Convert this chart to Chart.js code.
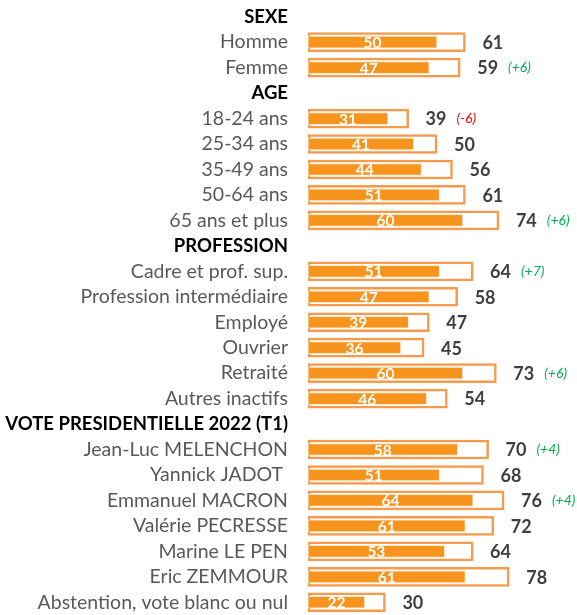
<!DOCTYPE html>
<html>
<head>
<meta charset="utf-8">
<script src="https://cdn.jsdelivr.net/npm/chart.js@4/dist/chart.umd.min.js"></script>
<style>
  body { margin: 0; background: #fff; }
  #wrap { width: 577px; height: 615px; }
</style>
</head>
<body>
<div id="wrap"><canvas id="barChart" width="577" height="615"></canvas></div>
<script>
const categories = [
    'SEXE', 'Homme', 'Femme',
    'AGE', '18-24 ans', '25-34 ans', '35-49 ans', '50-64 ans', '65 ans et plus',
    'PROFESSION', 'Cadre et prof. sup.', 'Profession intermédiaire', 'Employé', 'Ouvrier', 'Retraité', 'Autres inactifs',
    'VOTE PRESIDENTIELLE 2022 (T1)', 'Jean-Luc MELENCHON', 'Yannick JADOT ', 'Emmanuel MACRON', 'Valérie PECRESSE',
    'Marine LE PEN', 'Eric ZEMMOUR', 'Abstention, vote blanc ou nul'
];
const headerRows = ['SEXE', 'AGE', 'PROFESSION', 'VOTE PRESIDENTIELLE 2022 (T1)'];

const innerValues = [
    null, 50, 47,
    null, 31, 41, 44, 51, 60,
    null, 51, 47, 39, 36, 60, 46,
    null, 58, 51, 64, 61, 53, 61, 22
];
const totalValues = [
    null, 61, 59,
    null, 39, 50, 56, 61, 74,
    null, 64, 58, 47, 45, 73, 54,
    null, 70, 68, 76, 72, 64, 78, 30
];
const changeLabels = [
    '', '', '(+6)',
    '', '(-6)', '', '', '', '(+6)',
    '', '(+7)', '', '', '', '(+6)', '',
    '', '(+4)', '', '(+4)', '', '', '', ''
];

const FONT = 'Lato, "Open Sans", sans-serif';
const ORANGE = '#F7941D';

// custom labels: inner value in white, total in dark grey, change in green/red italic
const valueLabels = {
    id: 'valueLabels',
    afterDatasetsDraw(chart) {
        const ctx = chart.ctx;
        const innerMeta = chart.getDatasetMeta(0);
        const outerMeta = chart.getDatasetMeta(1);
        ctx.save();
        ctx.textBaseline = 'middle';
        categories.forEach((cat, i) => {
            if (totalValues[i] == null) return;
            const inner = innerMeta.data[i];
            const outer = outerMeta.data[i];

            ctx.font = 'bold 15.5px ' + FONT;
            ctx.fillStyle = '#ffffff';
            ctx.textAlign = 'center';
            ctx.fillText(String(innerValues[i]), (inner.x + inner.base) / 2, inner.y + 1);

            ctx.font = 'bold 18px ' + FONT;
            ctx.fillStyle = '#404040';
            ctx.textAlign = 'left';
            const tx = outer.x + 17;
            ctx.fillText(String(totalValues[i]), tx, outer.y + 1);
            const w = ctx.measureText(String(totalValues[i])).width;

            if (changeLabels[i]) {
                ctx.font = 'italic 14px ' + FONT;
                ctx.fillStyle = changeLabels[i].startsWith('(-') ? '#FF0000' : '#00B050';
                ctx.fillText(changeLabels[i], tx + w + 10, outer.y);
            }
        });
        ctx.restore();
    }
};

new Chart(document.getElementById('barChart'), {
    type: 'bar',
    data: {
        labels: categories,
        datasets: [
            {
                label: 'inner',
                data: innerValues,
                backgroundColor: ORANGE,
                borderColor: 'rgba(255, 230, 200, 0.8)',
                borderWidth: 1,
                borderSkipped: false,
                barThickness: 12
            },
            {
                label: 'total',
                data: totalValues,
                backgroundColor: '#ffffff',
                borderColor: '#F79A4B',
                borderWidth: 2.5,
                borderSkipped: false,
                barThickness: 19
            }
        ]
    },
    options: {
        indexAxis: 'y',
        responsive: false,
        animation: false,
        layout: { padding: { top: 4, right: 11, bottom: -4, left: 0 } },
        plugins: {
            legend: { display: false },
            tooltip: { enabled: false }
        },
        scales: {
            x: {
                display: false,
                min: 0,
                max: 100,
                stacked: false
            },
            y: {
                stacked: true,
                grid: { display: false, drawTicks: false },
                border: { display: false },
                afterFit(scale) {
                    scale.width = 308;
                    // tick padding should not push the plot area down
                    scale.paddingTop = 0;
                    scale.paddingBottom = 0;
                },
                ticks: {
                    autoSkip: false,
                    padding: 20,
                    color: ctx => headerRows.includes(categories[ctx.index]) ? '#000000' : '#595959',
                    font: ctx => headerRows.includes(categories[ctx.index])
                        ? { family: FONT, size: 18.5, weight: 'bold' }
                        : { family: FONT, size: 19.5 }
                }
            }
        }
    },
    plugins: [valueLabels]
});
</script>
</body>
</html>
